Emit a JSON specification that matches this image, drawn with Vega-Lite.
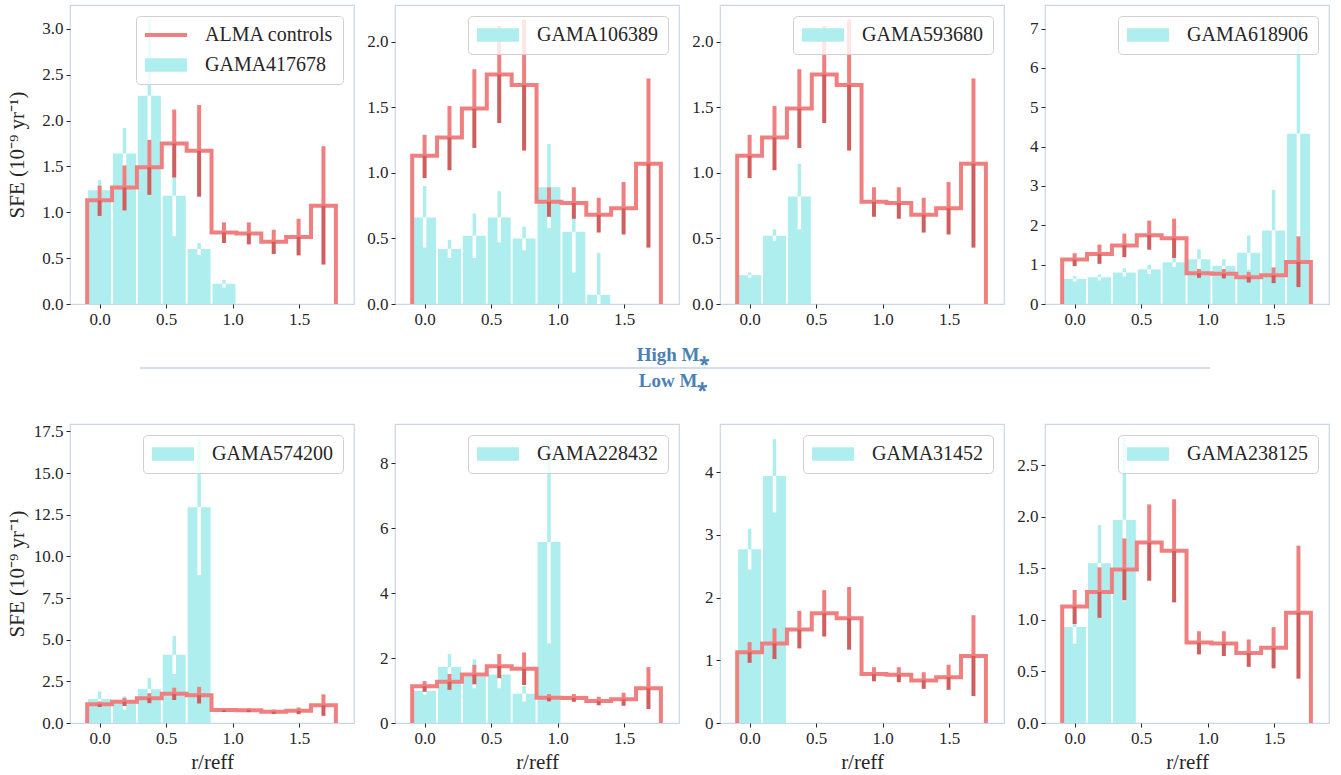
{
  "$schema": "https://vega.github.io/schema/vega-lite/v6.json",
  "padding": {"left": 5, "top": 4, "right": 5, "bottom": 5},
  "background": "white",
  "datasets": {
    "bars": [
      {"g": "GAMA417678", "x": 0, "v": 1.24, "lo": 1.13, "hi": 1.35},
      {"g": "GAMA417678", "x": 0.187, "v": 1.64, "lo": 1.36, "hi": 1.92},
      {"g": "GAMA417678", "x": 0.374, "v": 2.27, "lo": 1.43, "hi": 3.11},
      {"g": "GAMA417678", "x": 0.561, "v": 1.18, "lo": 0.74, "hi": 1.62},
      {"g": "GAMA417678", "x": 0.748, "v": 0.6, "lo": 0.535, "hi": 0.665},
      {"g": "GAMA417678", "x": 0.935, "v": 0.22, "lo": 0.18, "hi": 0.26},
      {"g": "GAMA106389", "x": 0, "v": 0.66, "lo": 0.43, "hi": 0.9},
      {"g": "GAMA106389", "x": 0.187, "v": 0.42, "lo": 0.35, "hi": 0.49},
      {"g": "GAMA106389", "x": 0.374, "v": 0.52, "lo": 0.35, "hi": 0.69},
      {"g": "GAMA106389", "x": 0.561, "v": 0.66, "lo": 0.47, "hi": 0.86},
      {"g": "GAMA106389", "x": 0.748, "v": 0.5, "lo": 0.41, "hi": 0.59},
      {"g": "GAMA106389", "x": 0.935, "v": 0.89, "lo": 0.58, "hi": 1.22},
      {"g": "GAMA106389", "x": 1.122, "v": 0.55, "lo": 0.24, "hi": 0.86},
      {"g": "GAMA106389", "x": 1.309, "v": 0.07, "lo": 0, "hi": 0.39},
      {"g": "GAMA593680", "x": 0, "v": 0.22, "lo": 0.2, "hi": 0.24},
      {"g": "GAMA593680", "x": 0.187, "v": 0.52, "lo": 0.48, "hi": 0.57},
      {"g": "GAMA593680", "x": 0.374, "v": 0.82, "lo": 0.57, "hi": 1.07},
      {"g": "GAMA618906", "x": 0, "v": 0.64, "lo": 0.57, "hi": 0.71},
      {"g": "GAMA618906", "x": 0.187, "v": 0.68, "lo": 0.6, "hi": 0.75},
      {"g": "GAMA618906", "x": 0.374, "v": 0.8, "lo": 0.7, "hi": 0.91},
      {"g": "GAMA618906", "x": 0.561, "v": 0.88, "lo": 0.76, "hi": 1.0},
      {"g": "GAMA618906", "x": 0.748, "v": 1.06, "lo": 0.94, "hi": 1.17},
      {"g": "GAMA618906", "x": 0.935, "v": 1.14, "lo": 0.89, "hi": 1.39},
      {"g": "GAMA618906", "x": 1.122, "v": 0.97, "lo": 0.8, "hi": 1.14},
      {"g": "GAMA618906", "x": 1.309, "v": 1.3, "lo": 0.87, "hi": 1.74},
      {"g": "GAMA618906", "x": 1.496, "v": 1.87, "lo": 0.84, "hi": 2.9},
      {"g": "GAMA618906", "x": 1.683, "v": 4.33, "lo": 1.42, "hi": 7.24},
      {"g": "GAMA574200", "x": 0, "v": 1.44, "lo": 0.98, "hi": 1.89},
      {"g": "GAMA574200", "x": 0.187, "v": 1.2, "lo": 0.8, "hi": 1.6},
      {"g": "GAMA574200", "x": 0.374, "v": 2.03, "lo": 1.37, "hi": 2.69},
      {"g": "GAMA574200", "x": 0.561, "v": 4.09, "lo": 2.94, "hi": 5.23},
      {"g": "GAMA574200", "x": 0.748, "v": 12.95, "lo": 8.87, "hi": 17.08},
      {"g": "GAMA228432", "x": 0, "v": 0.99, "lo": 0.87, "hi": 1.11},
      {"g": "GAMA228432", "x": 0.187, "v": 1.72, "lo": 1.32, "hi": 2.12},
      {"g": "GAMA228432", "x": 0.374, "v": 1.43, "lo": 1.07, "hi": 1.96},
      {"g": "GAMA228432", "x": 0.561, "v": 1.49, "lo": 1.07, "hi": 1.91},
      {"g": "GAMA228432", "x": 0.748, "v": 0.9, "lo": 0.66, "hi": 1.14},
      {"g": "GAMA228432", "x": 0.935, "v": 5.57, "lo": 2.45, "hi": 8.74},
      {"g": "GAMA31452", "x": 0, "v": 2.77, "lo": 2.45, "hi": 3.1},
      {"g": "GAMA31452", "x": 0.187, "v": 3.94, "lo": 3.36, "hi": 4.53},
      {"g": "GAMA238125", "x": 0, "v": 0.93, "lo": 0.77, "hi": 1.09},
      {"g": "GAMA238125", "x": 0.187, "v": 1.55, "lo": 1.19, "hi": 1.92},
      {"g": "GAMA238125", "x": 0.374, "v": 1.97, "lo": 1.18, "hi": 2.76}
    ],
    "ctrl": [
      {"x": 0, "v": 1.13, "lo": 0.96, "hi": 1.29},
      {"x": 0.187, "v": 1.27, "lo": 1.02, "hi": 1.51},
      {"x": 0.374, "v": 1.49, "lo": 1.19, "hi": 1.79},
      {"x": 0.561, "v": 1.75, "lo": 1.38, "hi": 2.12},
      {"x": 0.748, "v": 1.67, "lo": 1.17, "hi": 2.17},
      {"x": 0.935, "v": 0.78, "lo": 0.665, "hi": 0.89},
      {"x": 1.122, "v": 0.77, "lo": 0.65, "hi": 0.89},
      {"x": 1.309, "v": 0.68, "lo": 0.545, "hi": 0.81},
      {"x": 1.496, "v": 0.73, "lo": 0.53, "hi": 0.93},
      {"x": 1.683, "v": 1.07, "lo": 0.43, "hi": 1.72}
    ],
    "step": [
      {"i": 0, "x": -0.0935, "v": 0},
      {"i": 1, "x": -0.0935, "v": 1.13},
      {"i": 2, "x": 0.0935, "v": 1.27},
      {"i": 3, "x": 0.2805, "v": 1.49},
      {"i": 4, "x": 0.4675, "v": 1.75},
      {"i": 5, "x": 0.6545, "v": 1.67},
      {"i": 6, "x": 0.8415, "v": 0.78},
      {"i": 7, "x": 1.0285, "v": 0.77},
      {"i": 8, "x": 1.2155, "v": 0.68},
      {"i": 9, "x": 1.4025, "v": 0.73},
      {"i": 10, "x": 1.5895, "v": 1.07},
      {"i": 11, "x": 1.7765, "v": 0}
    ]
  },
  "vconcat": [
    {
      "hconcat": [
        {
          "width": 284, "height": 299,
          "encoding": {
            "x": {"field": "x", "type": "quantitative", "scale": {"domain": [-0.185, 1.875], "nice": false, "zero": false}, "axis": {"values": [0, 0.5, 1, 1.5], "format": ".1f", "title": null, "minExtent": 24, "maxExtent": 24}},
            "y": {"field": "v", "type": "quantitative", "title": "SFE (10⁻⁹ yr⁻¹)", "scale": {"domain": [0, 3.26], "nice": false}, "axis": {"values": [0, 0.5, 1, 1.5, 2, 2.5, 3], "format": ".1f"}}
          },
          "layer": [
            {"data": {"name": "bars"}, "transform": [{"filter": "datum.g === 'GAMA417678'"}], "mark": {"type": "bar", "size": 23, "orient": "vertical"},
             "encoding": {"color": {"field": "g", "type": "nominal", "scale": {"domain": ["ALMA controls", "GAMA417678"], "range": ["#f08080", "#afeeee"]},
               "legend": {"title": null, "encode": {"symbols": {"update": {"shape": {"signal": "datum.value === 'ALMA controls' ? 'M-2.1,-0.2H2.1V0.2H-2.1Z' : 'M-2.1,-0.67H2.1V0.67H-2.1Z'"}}}}}}}},
            {"data": {"name": "bars"}, "transform": [{"filter": "datum.g === 'GAMA417678'"}], "mark": {"type": "rule", "color": "#afeeee", "strokeWidth": 3.5}, "encoding": {"y2": {"field": "hi"}}},
            {"data": {"name": "bars"}, "transform": [{"filter": "datum.g === 'GAMA417678'"}], "mark": {"type": "rule", "color": "#ffffff", "strokeWidth": 3.5}, "encoding": {"y2": {"field": "lo"}}},
            {"data": {"name": "step"}, "mark": {"type": "line", "interpolate": "step-after", "color": "#f08080", "strokeWidth": 4, "strokeJoin": "miter"}, "encoding": {"order": {"field": "i"}}},
            {"data": {"name": "ctrl"}, "mark": {"type": "rule", "color": "#f08080", "strokeWidth": 4}, "encoding": {"y2": {"field": "hi"}}},
            {"data": {"name": "ctrl"}, "mark": {"type": "rule", "color": "#d05e5e", "strokeWidth": 4}, "encoding": {"y2": {"field": "lo"}}}
          ]
        },
        {
          "width": 284, "height": 299,
          "encoding": {
            "x": {"field": "x", "type": "quantitative", "scale": {"domain": [-0.185, 1.875], "nice": false, "zero": false}, "axis": {"values": [0, 0.5, 1, 1.5], "format": ".1f", "title": null, "minExtent": 24, "maxExtent": 24}},
            "y": {"field": "v", "type": "quantitative", "title": null, "scale": {"domain": [0, 2.28], "nice": false}, "axis": {"values": [0, 0.5, 1, 1.5, 2], "format": ".1f"}}
          },
          "layer": [
            {"data": {"name": "bars"}, "transform": [{"filter": "datum.g === 'GAMA106389'"}], "mark": {"type": "bar", "size": 23, "orient": "vertical"},
             "encoding": {"color": {"field": "g", "type": "nominal", "scale": {"domain": ["GAMA106389"], "range": ["#afeeee"]}, "legend": {"title": null}}}},
            {"data": {"name": "bars"}, "transform": [{"filter": "datum.g === 'GAMA106389'"}], "mark": {"type": "rule", "color": "#afeeee", "strokeWidth": 3.5}, "encoding": {"y2": {"field": "hi"}}},
            {"data": {"name": "bars"}, "transform": [{"filter": "datum.g === 'GAMA106389'"}], "mark": {"type": "rule", "color": "#ffffff", "strokeWidth": 3.5}, "encoding": {"y2": {"field": "lo"}}},
            {"data": {"name": "step"}, "mark": {"type": "line", "interpolate": "step-after", "color": "#f08080", "strokeWidth": 4, "strokeJoin": "miter"}, "encoding": {"order": {"field": "i"}}},
            {"data": {"name": "ctrl"}, "mark": {"type": "rule", "color": "#f08080", "strokeWidth": 4}, "encoding": {"y2": {"field": "hi"}}},
            {"data": {"name": "ctrl"}, "mark": {"type": "rule", "color": "#d05e5e", "strokeWidth": 4}, "encoding": {"y2": {"field": "lo"}}}
          ]
        },
        {
          "width": 284, "height": 299,
          "encoding": {
            "x": {"field": "x", "type": "quantitative", "scale": {"domain": [-0.185, 1.875], "nice": false, "zero": false}, "axis": {"values": [0, 0.5, 1, 1.5], "format": ".1f", "title": null, "minExtent": 24, "maxExtent": 24}},
            "y": {"field": "v", "type": "quantitative", "title": null, "scale": {"domain": [0, 2.28], "nice": false}, "axis": {"values": [0, 0.5, 1, 1.5, 2], "format": ".1f"}}
          },
          "layer": [
            {"data": {"name": "bars"}, "transform": [{"filter": "datum.g === 'GAMA593680'"}], "mark": {"type": "bar", "size": 23, "orient": "vertical"},
             "encoding": {"color": {"field": "g", "type": "nominal", "scale": {"domain": ["GAMA593680"], "range": ["#afeeee"]}, "legend": {"title": null}}}},
            {"data": {"name": "bars"}, "transform": [{"filter": "datum.g === 'GAMA593680'"}], "mark": {"type": "rule", "color": "#afeeee", "strokeWidth": 3.5}, "encoding": {"y2": {"field": "hi"}}},
            {"data": {"name": "bars"}, "transform": [{"filter": "datum.g === 'GAMA593680'"}], "mark": {"type": "rule", "color": "#ffffff", "strokeWidth": 3.5}, "encoding": {"y2": {"field": "lo"}}},
            {"data": {"name": "step"}, "mark": {"type": "line", "interpolate": "step-after", "color": "#f08080", "strokeWidth": 4, "strokeJoin": "miter"}, "encoding": {"order": {"field": "i"}}},
            {"data": {"name": "ctrl"}, "mark": {"type": "rule", "color": "#f08080", "strokeWidth": 4}, "encoding": {"y2": {"field": "hi"}}},
            {"data": {"name": "ctrl"}, "mark": {"type": "rule", "color": "#d05e5e", "strokeWidth": 4}, "encoding": {"y2": {"field": "lo"}}}
          ]
        },
        {
          "width": 284, "height": 299,
          "encoding": {
            "x": {"field": "x", "type": "quantitative", "scale": {"domain": [-0.185, 1.875], "nice": false, "zero": false}, "axis": {"values": [0, 0.5, 1, 1.5], "format": ".1f", "title": null, "minExtent": 24, "maxExtent": 24}},
            "y": {"field": "v", "type": "quantitative", "title": null, "scale": {"domain": [0, 7.6], "nice": false}, "axis": {"values": [0, 1, 2, 3, 4, 5, 6, 7], "format": "d"}}
          },
          "layer": [
            {"data": {"name": "bars"}, "transform": [{"filter": "datum.g === 'GAMA618906'"}], "mark": {"type": "bar", "size": 23, "orient": "vertical"},
             "encoding": {"color": {"field": "g", "type": "nominal", "scale": {"domain": ["GAMA618906"], "range": ["#afeeee"]}, "legend": {"title": null}}}},
            {"data": {"name": "bars"}, "transform": [{"filter": "datum.g === 'GAMA618906'"}], "mark": {"type": "rule", "color": "#afeeee", "strokeWidth": 3.5}, "encoding": {"y2": {"field": "hi"}}},
            {"data": {"name": "bars"}, "transform": [{"filter": "datum.g === 'GAMA618906'"}], "mark": {"type": "rule", "color": "#ffffff", "strokeWidth": 3.5}, "encoding": {"y2": {"field": "lo"}}},
            {"data": {"name": "step"}, "mark": {"type": "line", "interpolate": "step-after", "color": "#f08080", "strokeWidth": 4, "strokeJoin": "miter"}, "encoding": {"order": {"field": "i"}}},
            {"data": {"name": "ctrl"}, "mark": {"type": "rule", "color": "#f08080", "strokeWidth": 4}, "encoding": {"y2": {"field": "hi"}}},
            {"data": {"name": "ctrl"}, "mark": {"type": "rule", "color": "#d05e5e", "strokeWidth": 4}, "encoding": {"y2": {"field": "lo"}}}
          ]
        }
      ],
      "spacing": 41,
      "bounds": "flush",
      "resolve": {"scale": {"x": "independent", "y": "independent", "color": "independent"}, "legend": {"color": "independent"}}
    },
    {
      "width": 1259, "height": 80,
      "view": {"stroke": null},
      "layer": [
        {"data": {"values": [{}]}, "mark": {"type": "rule", "color": "#c5d4e8", "strokeWidth": 1.5},
         "encoding": {"x": {"datum": 0.0556, "type": "quantitative", "scale": {"domain": [0, 1]}, "axis": null}, "x2": {"datum": 0.9056}, "y": {"datum": 0.5875, "type": "quantitative", "scale": {"domain": [0, 1]}, "axis": null}}},
        {"data": {"values": [{}]}, "mark": {"type": "text", "font": "Liberation Serif", "fontWeight": "bold", "fontSize": 19, "color": "#4a80b4", "text": "High M⁎"},
         "encoding": {"x": {"datum": 0.479, "type": "quantitative"}, "y": {"datum": 0.75, "type": "quantitative"}}},
        {"data": {"values": [{}]}, "mark": {"type": "text", "font": "Liberation Serif", "fontWeight": "bold", "fontSize": 19, "color": "#4a80b4", "text": "Low M⁎"},
         "encoding": {"x": {"datum": 0.479, "type": "quantitative"}, "y": {"datum": 0.425, "type": "quantitative"}}}
      ]
    },
    {
      "hconcat": [
        {
          "width": 284, "height": 299,
          "encoding": {
            "x": {"field": "x", "type": "quantitative", "title": "r/reff", "scale": {"domain": [-0.185, 1.875], "nice": false, "zero": false}, "axis": {"values": [0, 0.5, 1, 1.5], "format": ".1f"}},
            "y": {"field": "v", "type": "quantitative", "title": "SFE (10⁻⁹ yr⁻¹)", "scale": {"domain": [0, 17.94], "nice": false}, "axis": {"values": [0, 2.5, 5, 7.5, 10, 12.5, 15, 17.5], "format": ".1f"}}
          },
          "layer": [
            {"data": {"name": "bars"}, "transform": [{"filter": "datum.g === 'GAMA574200'"}], "mark": {"type": "bar", "size": 23, "orient": "vertical"},
             "encoding": {"color": {"field": "g", "type": "nominal", "scale": {"domain": ["GAMA574200"], "range": ["#afeeee"]}, "legend": {"title": null}}}},
            {"data": {"name": "bars"}, "transform": [{"filter": "datum.g === 'GAMA574200'"}], "mark": {"type": "rule", "color": "#afeeee", "strokeWidth": 3.5}, "encoding": {"y2": {"field": "hi"}}},
            {"data": {"name": "bars"}, "transform": [{"filter": "datum.g === 'GAMA574200'"}], "mark": {"type": "rule", "color": "#ffffff", "strokeWidth": 3.5}, "encoding": {"y2": {"field": "lo"}}},
            {"data": {"name": "step"}, "mark": {"type": "line", "interpolate": "step-after", "color": "#f08080", "strokeWidth": 4, "strokeJoin": "miter"}, "encoding": {"order": {"field": "i"}}},
            {"data": {"name": "ctrl"}, "mark": {"type": "rule", "color": "#f08080", "strokeWidth": 4}, "encoding": {"y2": {"field": "hi"}}},
            {"data": {"name": "ctrl"}, "mark": {"type": "rule", "color": "#d05e5e", "strokeWidth": 4}, "encoding": {"y2": {"field": "lo"}}}
          ]
        },
        {
          "width": 284, "height": 299,
          "encoding": {
            "x": {"field": "x", "type": "quantitative", "title": "r/reff", "scale": {"domain": [-0.185, 1.875], "nice": false, "zero": false}, "axis": {"values": [0, 0.5, 1, 1.5], "format": ".1f"}},
            "y": {"field": "v", "type": "quantitative", "title": null, "scale": {"domain": [0, 9.2], "nice": false}, "axis": {"values": [0, 2, 4, 6, 8], "format": "d"}}
          },
          "layer": [
            {"data": {"name": "bars"}, "transform": [{"filter": "datum.g === 'GAMA228432'"}], "mark": {"type": "bar", "size": 23, "orient": "vertical"},
             "encoding": {"color": {"field": "g", "type": "nominal", "scale": {"domain": ["GAMA228432"], "range": ["#afeeee"]}, "legend": {"title": null}}}},
            {"data": {"name": "bars"}, "transform": [{"filter": "datum.g === 'GAMA228432'"}], "mark": {"type": "rule", "color": "#afeeee", "strokeWidth": 3.5}, "encoding": {"y2": {"field": "hi"}}},
            {"data": {"name": "bars"}, "transform": [{"filter": "datum.g === 'GAMA228432'"}], "mark": {"type": "rule", "color": "#ffffff", "strokeWidth": 3.5}, "encoding": {"y2": {"field": "lo"}}},
            {"data": {"name": "step"}, "mark": {"type": "line", "interpolate": "step-after", "color": "#f08080", "strokeWidth": 4, "strokeJoin": "miter"}, "encoding": {"order": {"field": "i"}}},
            {"data": {"name": "ctrl"}, "mark": {"type": "rule", "color": "#f08080", "strokeWidth": 4}, "encoding": {"y2": {"field": "hi"}}},
            {"data": {"name": "ctrl"}, "mark": {"type": "rule", "color": "#d05e5e", "strokeWidth": 4}, "encoding": {"y2": {"field": "lo"}}}
          ]
        },
        {
          "width": 284, "height": 299,
          "encoding": {
            "x": {"field": "x", "type": "quantitative", "title": "r/reff", "scale": {"domain": [-0.185, 1.875], "nice": false, "zero": false}, "axis": {"values": [0, 0.5, 1, 1.5], "format": ".1f"}},
            "y": {"field": "v", "type": "quantitative", "title": null, "scale": {"domain": [0, 4.77], "nice": false}, "axis": {"values": [0, 1, 2, 3, 4], "format": "d"}}
          },
          "layer": [
            {"data": {"name": "bars"}, "transform": [{"filter": "datum.g === 'GAMA31452'"}], "mark": {"type": "bar", "size": 23, "orient": "vertical"},
             "encoding": {"color": {"field": "g", "type": "nominal", "scale": {"domain": ["GAMA31452"], "range": ["#afeeee"]}, "legend": {"title": null}}}},
            {"data": {"name": "bars"}, "transform": [{"filter": "datum.g === 'GAMA31452'"}], "mark": {"type": "rule", "color": "#afeeee", "strokeWidth": 3.5}, "encoding": {"y2": {"field": "hi"}}},
            {"data": {"name": "bars"}, "transform": [{"filter": "datum.g === 'GAMA31452'"}], "mark": {"type": "rule", "color": "#ffffff", "strokeWidth": 3.5}, "encoding": {"y2": {"field": "lo"}}},
            {"data": {"name": "step"}, "mark": {"type": "line", "interpolate": "step-after", "color": "#f08080", "strokeWidth": 4, "strokeJoin": "miter"}, "encoding": {"order": {"field": "i"}}},
            {"data": {"name": "ctrl"}, "mark": {"type": "rule", "color": "#f08080", "strokeWidth": 4}, "encoding": {"y2": {"field": "hi"}}},
            {"data": {"name": "ctrl"}, "mark": {"type": "rule", "color": "#d05e5e", "strokeWidth": 4}, "encoding": {"y2": {"field": "lo"}}}
          ]
        },
        {
          "width": 284, "height": 299,
          "encoding": {
            "x": {"field": "x", "type": "quantitative", "title": "r/reff", "scale": {"domain": [-0.185, 1.875], "nice": false, "zero": false}, "axis": {"values": [0, 0.5, 1, 1.5], "format": ".1f"}},
            "y": {"field": "v", "type": "quantitative", "title": null, "scale": {"domain": [0, 2.9], "nice": false}, "axis": {"values": [0, 0.5, 1, 1.5, 2, 2.5], "format": ".1f"}}
          },
          "layer": [
            {"data": {"name": "bars"}, "transform": [{"filter": "datum.g === 'GAMA238125'"}], "mark": {"type": "bar", "size": 23, "orient": "vertical"},
             "encoding": {"color": {"field": "g", "type": "nominal", "scale": {"domain": ["GAMA238125"], "range": ["#afeeee"]}, "legend": {"title": null}}}},
            {"data": {"name": "bars"}, "transform": [{"filter": "datum.g === 'GAMA238125'"}], "mark": {"type": "rule", "color": "#afeeee", "strokeWidth": 3.5}, "encoding": {"y2": {"field": "hi"}}},
            {"data": {"name": "bars"}, "transform": [{"filter": "datum.g === 'GAMA238125'"}], "mark": {"type": "rule", "color": "#ffffff", "strokeWidth": 3.5}, "encoding": {"y2": {"field": "lo"}}},
            {"data": {"name": "step"}, "mark": {"type": "line", "interpolate": "step-after", "color": "#f08080", "strokeWidth": 4, "strokeJoin": "miter"}, "encoding": {"order": {"field": "i"}}},
            {"data": {"name": "ctrl"}, "mark": {"type": "rule", "color": "#f08080", "strokeWidth": 4}, "encoding": {"y2": {"field": "hi"}}},
            {"data": {"name": "ctrl"}, "mark": {"type": "rule", "color": "#d05e5e", "strokeWidth": 4}, "encoding": {"y2": {"field": "lo"}}}
          ]
        }
      ],
      "spacing": 41,
      "bounds": "flush",
      "resolve": {"scale": {"x": "independent", "y": "independent", "color": "independent"}, "legend": {"color": "independent"}}
    }
  ],
  "spacing": 6,
  "resolve": {"scale": {"x": "independent", "y": "independent", "color": "independent"}, "legend": {"color": "independent"}},
  "config": {
    "font": "Liberation Serif",
    "view": {"stroke": "#c9d5e8", "strokeWidth": 1.2},
    "axis": {"domain": false, "grid": false, "labelFont": "Liberation Serif", "labelFontSize": 17, "labelColor": "#262626", "tickColor": "#262626", "tickSize": 4, "labelPadding": 3, "labelFlush": false, "titleFont": "Liberation Serif", "titleFontSize": 21, "titleFontWeight": "normal", "titleColor": "#262626", "titlePadding": 5},
    "axisY": {"minExtent": 38, "maxExtent": 38},
    "legend": {"orient": "top-right", "offset": 11, "padding": 9, "labelFont": "Liberation Serif", "labelFontSize": 20, "labelColor": "#262626", "fillColor": "rgba(255,255,255,0.8)", "strokeColor": "#d0d0d0", "cornerRadius": 4, "symbolSize": 400, "symbolType": "M-2.1,-0.67H2.1V0.67H-2.1Z", "symbolStrokeWidth": 0, "symbolOffset": 11, "labelOffset": 29, "rowPadding": 10}
  }
}
